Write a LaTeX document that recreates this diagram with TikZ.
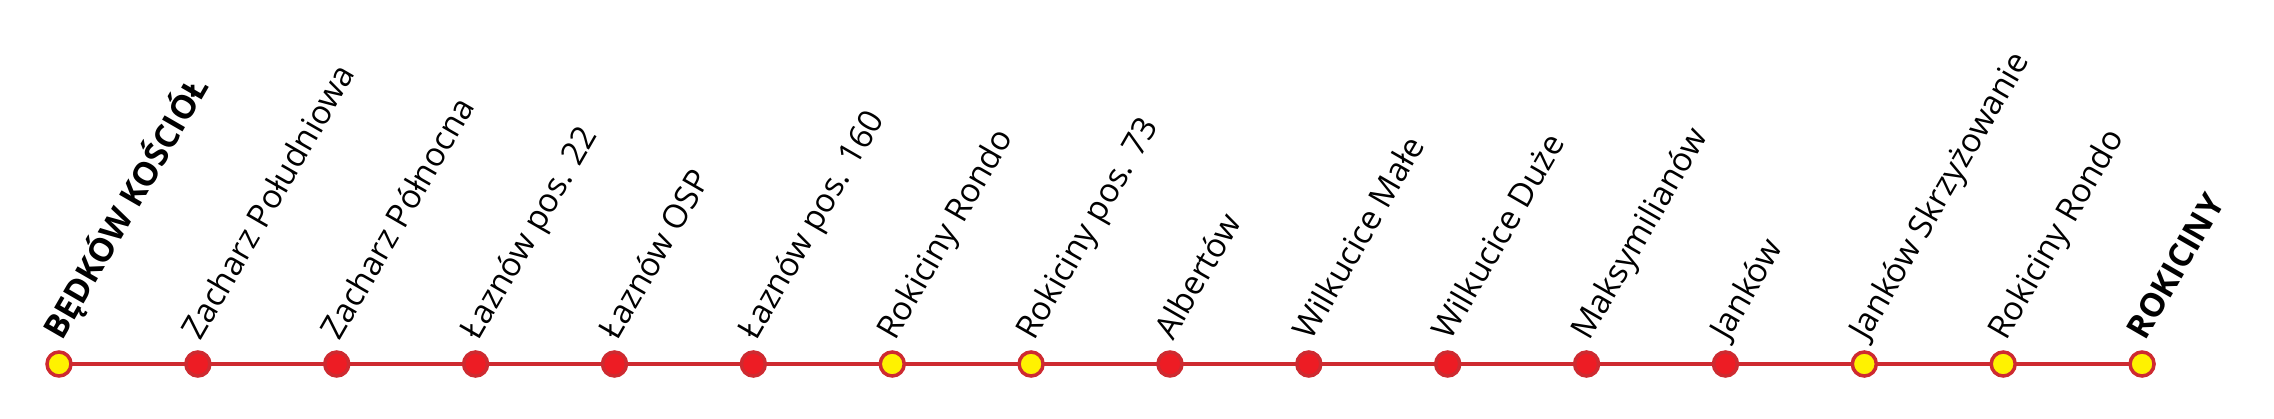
\documentclass[tikz,border=0pt]{standalone}
\usepackage{fontspec}
\setmainfont{Open Sans}
\definecolor{linered}{HTML}{CE2A30}
\definecolor{stopred}{HTML}{ED1C24}
\definecolor{stopyellow}{HTML}{FFF200}
\tikzset{
  routeline/.style={draw=linered, line width=4pt},
  stopbase/.style={circle, draw=linered, line width=3.5pt, minimum size=24pt, inner sep=0pt},
  stopmain/.style={stopbase, fill=stopred},
  stopmajor/.style={stopbase, fill=stopyellow},
  stoplabel/.style={anchor=base west, rotate=60, inner sep=0pt, font=\fontsize{33}{33}\selectfont},
  termlabel/.style={stoplabel, font=\fontsize{33}{33}\selectfont\bfseries},
}
\begin{document}
\begin{tikzpicture}[x=1pt,y=1pt]
\useasboundingbox (0,0) rectangle (2274,418);
\def\sy{54}
\foreach \i/\st/\txt/\sty/\lst in {
  0/stopmajor/{BĘDKÓW KOŚCIÓŁ}/a/termlabel,
  1/stopmain/{Zacharz Południowa}/b/stoplabel,
  2/stopmain/{Zacharz Północna}/b/stoplabel,
  3/stopmain/{Łaznów pos. 22}/b/stoplabel,
  4/stopmain/{Łaznów OSP}/b/stoplabel,
  5/stopmain/{Łaznów pos. 160}/b/stoplabel,
  6/stopmajor/{Rokiciny Rondo}/b/stoplabel,
  7/stopmajor/{Rokiciny pos. 73}/b/stoplabel,
  8/stopmain/{Albertów}/b/stoplabel,
  9/stopmain/{Wilkucice Małe}/b/stoplabel,
  10/stopmain/{Wilkucice Duże}/b/stoplabel,
  11/stopmain/{Maksymilianów}/b/stoplabel,
  12/stopmain/{Janków}/b/stoplabel,
  13/stopmajor/{Janków Skrzyżowanie}/b/stoplabel,
  14/stopmajor/{Rokiciny Rondo}/b/stoplabel,
  15/stopmajor/{ROKICINY}/a/termlabel}
{
  \coordinate (p\i) at ({59+138.87*\i},\sy);
  \node[\lst] (l\i) at ({59+138.87*\i+3},{\sy+22}) {\txt};
}
\foreach \i [count=\j from 1] in {0,...,14} {
  \draw[routeline] (p\i) -- (p\j);
}
\foreach \i/\st in {0/stopmajor,1/stopmain,2/stopmain,3/stopmain,4/stopmain,5/stopmain,6/stopmajor,7/stopmajor,8/stopmain,9/stopmain,10/stopmain,11/stopmain,12/stopmain,13/stopmajor,14/stopmajor,15/stopmajor}
{
  \node[\st] (s\i) at (p\i) {};
}
\end{tikzpicture}
\end{document}
